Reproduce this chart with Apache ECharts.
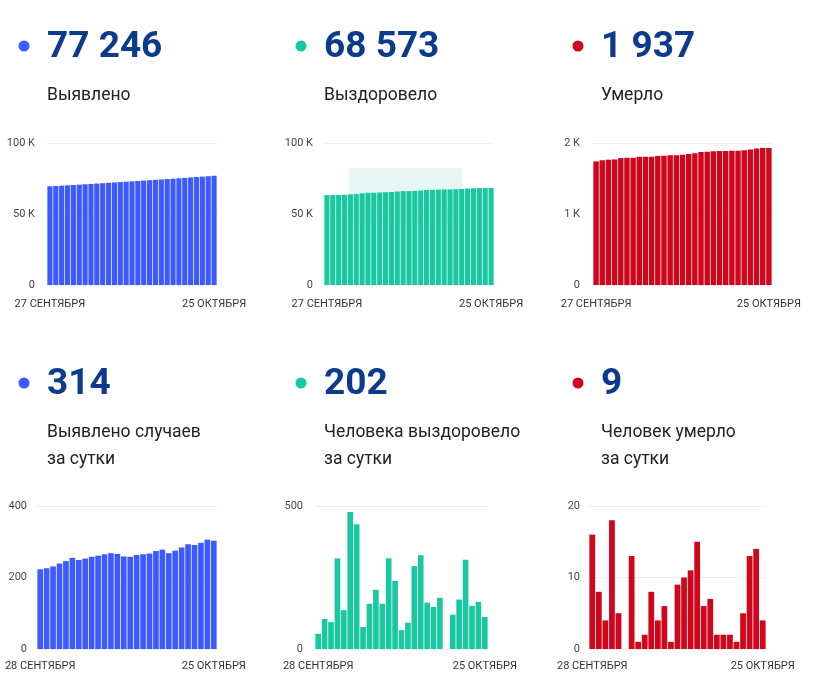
<!DOCTYPE html>
<html>
<head>
<meta charset="utf-8">
<script src="https://cdn.jsdelivr.net/npm/echarts@6/dist/echarts.min.js"></script>
<style>
  html, body { margin: 0; padding: 0; background: #fff; }
  #container { width: 813px; height: 682px; }
</style>
</head>
<body>
<div id="container"></div>
<script>
// даты
var totalDates = ['27 СЕНТЯБРЯ', '28 СЕНТЯБРЯ', '29 СЕНТЯБРЯ', '30 СЕНТЯБРЯ',
    '1 ОКТЯБРЯ', '2 ОКТЯБРЯ', '3 ОКТЯБРЯ', '4 ОКТЯБРЯ', '5 ОКТЯБРЯ', '6 ОКТЯБРЯ',
    '7 ОКТЯБРЯ', '8 ОКТЯБРЯ', '9 ОКТЯБРЯ', '10 ОКТЯБРЯ', '11 ОКТЯБРЯ', '12 ОКТЯБРЯ',
    '13 ОКТЯБРЯ', '14 ОКТЯБРЯ', '15 ОКТЯБРЯ', '16 ОКТЯБРЯ', '17 ОКТЯБРЯ', '18 ОКТЯБРЯ',
    '19 ОКТЯБРЯ', '20 ОКТЯБРЯ', '21 ОКТЯБРЯ', '22 ОКТЯБРЯ', '23 ОКТЯБРЯ', '24 ОКТЯБРЯ',
    '25 ОКТЯБРЯ'];
var dailyDates = ['28 СЕНТЯБРЯ', '29 СЕНТЯБРЯ', '30 СЕНТЯБРЯ',
    '1 ОКТЯБРЯ', '2 ОКТЯБРЯ', '3 ОКТЯБРЯ', '4 ОКТЯБРЯ', '5 ОКТЯБРЯ', '6 ОКТЯБРЯ',
    '7 ОКТЯБРЯ', '8 ОКТЯБРЯ', '9 ОКТЯБРЯ', '10 ОКТЯБРЯ', '11 ОКТЯБРЯ', '12 ОКТЯБРЯ',
    '13 ОКТЯБРЯ', '14 ОКТЯБРЯ', '15 ОКТЯБРЯ', '16 ОКТЯБРЯ', '17 ОКТЯБРЯ', '18 ОКТЯБРЯ',
    '19 ОКТЯБРЯ', '20 ОКТЯБРЯ', '21 ОКТЯБРЯ', '22 ОКТЯБРЯ', '23 ОКТЯБРЯ', '24 ОКТЯБРЯ',
    '25 ОКТЯБРЯ'];
// у графиков выздоровевших и умерших за сутки 27 столбцов
var dailyDatesShort = ['28 СЕНТЯБРЯ', '30 СЕНТЯБРЯ',
    '1 ОКТЯБРЯ', '2 ОКТЯБРЯ', '3 ОКТЯБРЯ', '4 ОКТЯБРЯ', '5 ОКТЯБРЯ', '6 ОКТЯБРЯ',
    '7 ОКТЯБРЯ', '8 ОКТЯБРЯ', '9 ОКТЯБРЯ', '10 ОКТЯБРЯ', '11 ОКТЯБРЯ', '12 ОКТЯБРЯ',
    '13 ОКТЯБРЯ', '14 ОКТЯБРЯ', '15 ОКТЯБРЯ', '16 ОКТЯБРЯ', '17 ОКТЯБРЯ', '18 ОКТЯБРЯ',
    '19 ОКТЯБРЯ', '20 ОКТЯБРЯ', '21 ОКТЯБРЯ', '22 ОКТЯБРЯ', '23 ОКТЯБРЯ', '24 ОКТЯБРЯ',
    '25 ОКТЯБРЯ'];

// всего
var casesTotal = [69510, 69730, 69960, 70190, 70430, 70680, 70930, 71180, 71430, 71690,
    71950, 72220, 72490, 72750, 73010, 73270, 73530, 73800, 74060, 74340,
    74620, 74880, 75160, 75440, 75740, 76030, 76320, 76630, 76930];
var recoveredTotal = [63300, 63350, 63460, 63550, 63870, 64010, 64480, 64920, 65000, 65160,
    65360, 65520, 65840, 66080, 66140, 66230, 66520, 66850, 67010, 67160,
    67340, 67340, 67460, 67630, 67940, 68100, 68260, 68370, 68370];
var deathsTotal = [1741, 1757, 1765, 1769, 1787, 1792, 1792, 1805, 1806, 1808,
    1816, 1820, 1826, 1827, 1836, 1846, 1857, 1872, 1878, 1885,
    1887, 1889, 1891, 1892, 1897, 1910, 1924, 1928, 1928];

// за сутки
var casesDaily = [223, 226, 231, 239, 246, 255, 249, 253, 258, 261, 265, 268, 266, 259,
    258, 263, 265, 267, 274, 278, 268, 275, 284, 293, 291, 297, 306, 303];
var recoveredDaily = [53, 105, 94, 317, 136, 479, 436, 77, 158, 207, 158, 317, 238, 66,
    92, 290, 328, 162, 147, 179, 0, 120, 173, 312, 151, 165, 112];
var deathsDaily = [16, 8, 4, 18, 5, 0, 13, 1, 2, 8, 4, 6, 1, 9, 10, 11, 15, 6, 7,
    2, 2, 2, 1, 5, 13, 14, 4];

var headNumbers = ['77 246', '68 573', '1 937', '314', '202', '9'];
var headLabels = [['Выявлено'], ['Выздоровело'], ['Умерло'],
    ['Выявлено случаев', 'за сутки'], ['Человека выздоровело', 'за сутки'],
    ['Человек умерло', 'за сутки']];

var BLUE = '#3d5afe', GREEN = '#19c8a0', RED = '#d0061c', NAVY = '#0c3a8d';
var FONT = 'Roboto, "Noto Sans", sans-serif';

var panels = [
    {cats: totalDates, data: casesTotal, color: BLUE, max: 100000, step: 50000, unit: 'K',
        grid: {left: 47, top: 143, width: 170, height: 142}, yMargin: 12, xMargin: 14},
    {cats: totalDates, data: recoveredTotal, color: GREEN, max: 100000, step: 50000, unit: 'K',
        grid: {left: 324, top: 143, width: 170, height: 142}, yMargin: 11, xMargin: 14},
    {cats: totalDates, data: deathsTotal, color: RED, max: 2000, step: 1000, unit: 'K',
        grid: {left: 593, top: 143, width: 179, height: 142}, yMargin: 13, xMargin: 14},
    {cats: dailyDates, data: casesDaily, color: BLUE, max: 400, step: 200, unit: '',
        grid: {left: 37, top: 506, width: 180, height: 143}, yMargin: 10, xMargin: 12},
    {cats: dailyDatesShort, data: recoveredDaily, color: GREEN, max: 500, step: 500, unit: '',
        grid: {left: 315, top: 506, width: 173, height: 143}, yMargin: 12, xMargin: 12},
    {cats: dailyDatesShort, data: deathsDaily, color: RED, max: 20, step: 10, unit: '',
        grid: {left: 589, top: 506, width: 177, height: 143}, yMargin: 9, xMargin: 12}
];

var grids = [], xAxes = [], yAxes = [], series = [], graphics = [];
var headX = [24, 301, 578];
var headY = [46, 383];

for (var i = 0; i < panels.length; i++) {
    var p = panels[i];
    grids.push(p.grid);
    var last = p.cats.length - 1;
    xAxes.push({
        type: 'category',
        gridIndex: i,
        data: p.cats,
        axisLine: {show: false},
        axisTick: {show: false},
        axisLabel: {
            interval: (function (l) { return function (idx) { return idx === 0 || idx === l; }; })(last),
            fontSize: 11,
            fontFamily: FONT,
            color: '#333',
            margin: p.xMargin
        }
    });
    yAxes.push({
        type: 'value',
        gridIndex: i,
        min: 0,
        max: p.max,
        interval: p.step,
        splitLine: {lineStyle: {color: '#eeeeee'}},
        axisLabel: {
            fontSize: 11,
            fontFamily: FONT,
            color: '#444',
            margin: p.yMargin,
            formatter: (function (u) {
                return function (v) { return (u && v) ? (v / 1000) + ' K' : String(v); };
            })(p.unit)
        }
    });
    series.push({
        type: 'bar',
        xAxisIndex: i,
        yAxisIndex: i,
        data: p.data,
        barCategoryGap: '12%',
        itemStyle: {color: p.color},
        silent: true
    });

    // заголовок
    var hx = headX[i % 3], hy = headY[Math.floor(i / 3)];
    graphics.push({
        type: 'circle',
        shape: {cx: hx, cy: hy, r: 5.5},
        style: {fill: p.color}
    });
    graphics.push({
        type: 'text',
        x: hx + 23, y: hy + 2,
        style: {
            text: headNumbers[i],
            font: 'bold 37px ' + FONT,
            fill: NAVY,
            textVerticalAlign: 'middle',
            verticalAlign: 'middle'
        }
    });
    var lines = headLabels[i];
    for (var j = 0; j < lines.length; j++) {
        graphics.push({
            type: 'text',
            x: hx + 23, y: hy + 50 + j * 27,
            style: {
                text: lines[j],
                font: '17.5px ' + FONT,
                fill: '#222',
                textVerticalAlign: 'middle',
                verticalAlign: 'middle'
            }
        });
    }
}

// след всплывающей подсказки на графике выздоровевших
graphics.push({
    type: 'group',
    z: 100,
    children: [{
        type: 'rect',
        shape: {x: 349, y: 168, width: 113, height: 56, r: 3},
        style: {fill: 'rgba(110,215,190,0.17)', stroke: 'rgba(255,255,255,0.35)', lineWidth: 1}
    }, {
        type: 'text',
        x: 405, y: 204,
        style: {
            text: 'Кол-во: 63 413',
            font: '13px ' + FONT,
            fill: 'rgba(255,255,255,0.28)',
            textAlign: 'center',
            align: 'center',
            textVerticalAlign: 'middle',
            verticalAlign: 'middle'
        }
    }]
});

var dom = document.getElementById('container');
var myChart = echarts.init(dom);
var option = {
    backgroundColor: '#fff',
    animation: false,
    grid: grids,
    xAxis: xAxes,
    yAxis: yAxes,
    series: series,
    graphic: graphics
};
myChart.setOption(option, true);
</script>
</body>
</html>
